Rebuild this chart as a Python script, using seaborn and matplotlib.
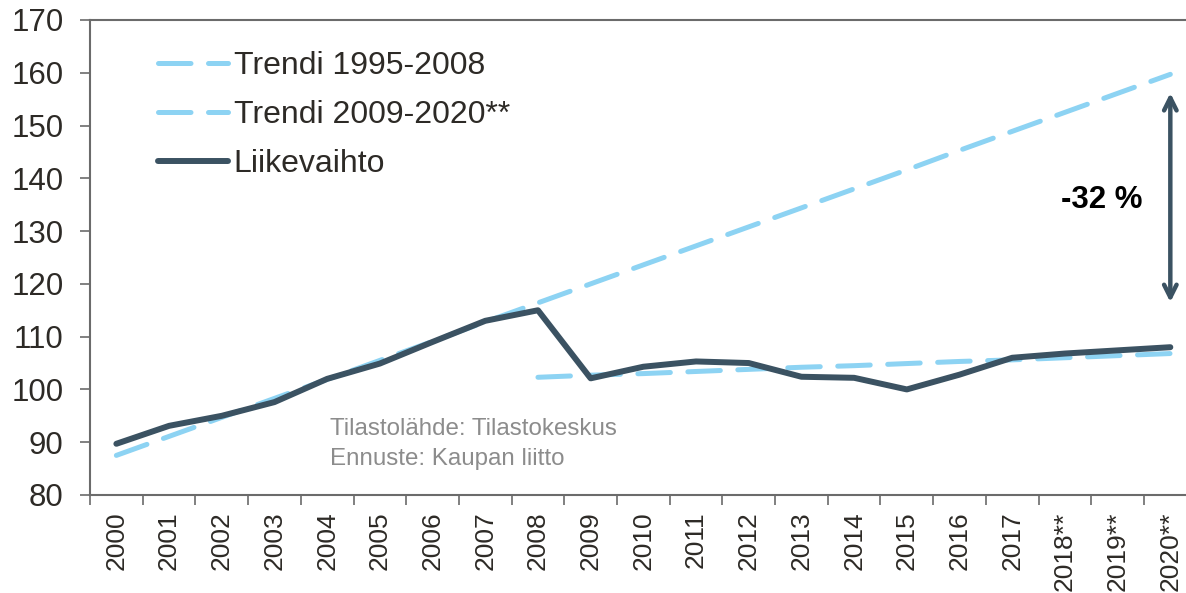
import numpy as np
import pandas as pd
import seaborn as sns
import matplotlib.pyplot as plt
from matplotlib.ticker import FixedLocator

years = ["2000", "2001", "2002", "2003", "2004", "2005", "2006", "2007", "2008", "2009",
         "2010", "2011", "2012", "2013", "2014", "2015", "2016", "2017",
         "2018**", "2019**", "2020**"]
liikevaihto = [89.7, 93.1, 95.0, 97.6, 102.0, 104.9, 109.0, 113.0, 115.0, 102.1,
               104.3, 105.3, 105.0, 102.4, 102.2, 100.0, 102.8, 106.0,
               106.8, 107.4, 108.0]
trendi_1 = [87.5, 91.1, 94.7, 98.3, 101.9, 105.5, 109.1, 112.8, 116.4, 120.0,
            123.6, 127.2, 130.8, 134.4, 138.0, 141.6, 145.3, 148.9,
            152.5, 156.1, 159.7]
trendi_2_years = years[8:]
trendi_2 = [102.3, 102.7, 103.0, 103.4, 103.8, 104.2, 104.5, 104.9, 105.3, 105.6,
            106.0, 106.4, 106.8]

dark = "#3B5262"
light = "#8DD3F3"
txt = "#2D2A26"

sns.set_style("white")
plt.rcParams['font.family'] = ['Liberation Sans', 'DejaVu Sans']

fig = plt.figure(figsize=(11.86, 5.93), dpi=100)
ax = fig.add_axes([0.0759, 0.1653, 0.9331, 0.801])

t1 = pd.DataFrame({"year": years, "value": trendi_1})
t2 = pd.DataFrame({"year": trendi_2_years, "value": trendi_2})
lv = pd.DataFrame({"year": years, "value": liikevaihto})

sns.lineplot(data=t1, x="year", y="value", ax=ax, color=light, linewidth=3.6,
             linestyle=(0, (6.5, 3.5)), dash_capstyle="round", label="Trendi 1995-2008")
sns.lineplot(data=t2, x="year", y="value", ax=ax, color=light, linewidth=3.6,
             linestyle=(0, (6.5, 3.5)), dash_capstyle="round", label="Trendi 2009-2020**")
sns.lineplot(data=lv, x="year", y="value", ax=ax, color=dark, linewidth=4.3,
             solid_capstyle="round", label="Liikevaihto")

ax.set_xlim(-0.5, len(years) - 0.5)
ax.set_ylim(80, 170)
ax.set_yticks(np.arange(80, 171, 10))
ax.set_xlabel("")
ax.set_ylabel("")

# ticks between categories
ax.xaxis.set_minor_locator(FixedLocator(np.arange(-0.5, len(years), 1.0)))
ax.tick_params(axis="x", which="major", length=0, labelsize=19, labelcolor=txt,
               rotation=90, pad=12)
ax.tick_params(axis="x", which="minor", length=7, width=1.2, color="#6b6b6b",
               direction="out", bottom=True)
ax.tick_params(axis="y", length=7, width=1.2, color="#6b6b6b", direction="out",
               left=True, labelsize=22.5, labelcolor=txt, pad=12)

for side in ["left", "top", "bottom"]:
    ax.spines[side].set_color("#6b6b6b")
    ax.spines[side].set_linewidth(1.5)
ax.spines["right"].set_visible(False)

# arrow and label
ax.annotate("", xy=(20, 156.7), xytext=(20, 116.0),
            arrowprops=dict(arrowstyle="<->,head_length=0.9,head_width=0.45",
                            color=dark, lw=3.2))
ax.text(18.7, 135.9, "-32 %", fontsize=22.5, fontweight="bold", color="black",
        ha="center", va="center")

ax.text(4.05, 94.6, "Tilastolähde: Tilastokeskus\nEnnuste: Kaupan liitto",
        fontsize=17.4, color="#8c8c8c", ha="left", va="top", linespacing=1.45)

leg = ax.legend(loc="upper left", bbox_to_anchor=(0.061, 0.935), frameon=False,
                fontsize=23, handlelength=2.2, handletextpad=0.19,
                labelspacing=0.6, borderaxespad=0, borderpad=0)
for t in leg.get_texts():
    t.set_color(txt)

fig.savefig("out.png", dpi=100)
